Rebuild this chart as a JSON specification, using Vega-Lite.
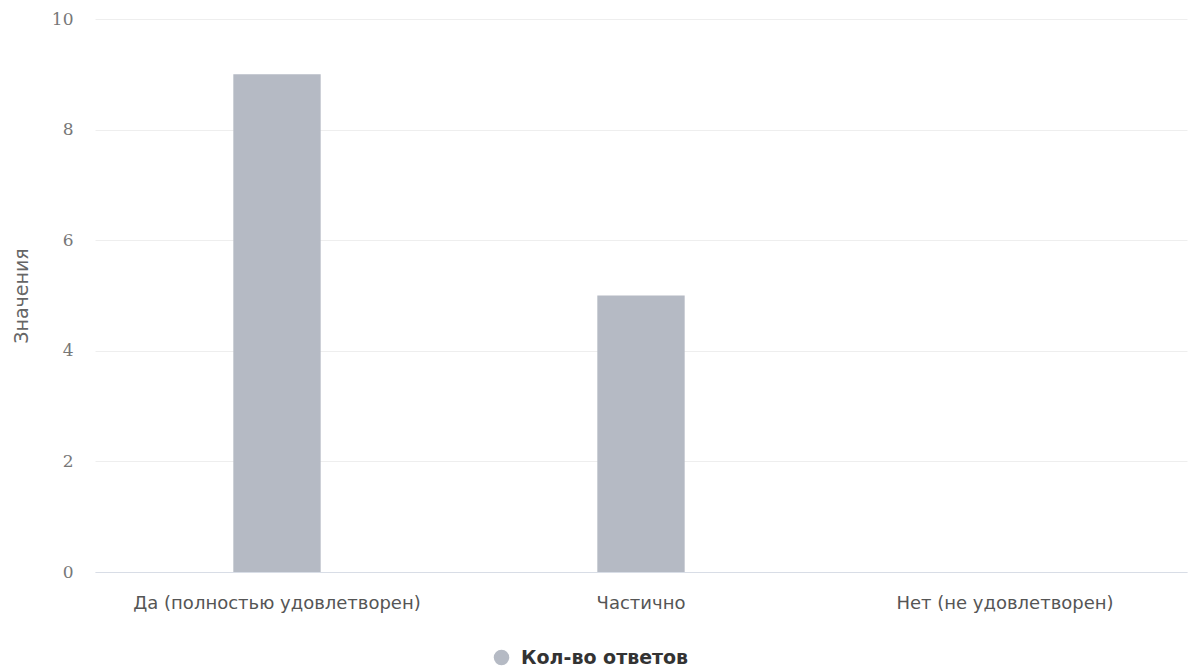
{
  "$schema": "https://vega.github.io/schema/vega-lite/v6.json",
  "width": 1092,
  "height": 553,
  "autosize": "none",
  "padding": {"left": 95, "top": 19, "right": 9, "bottom": 97},
  "background": "white",
  "data": {
    "values": [
      {"answer": "Да (полностью удовлетворен)", "count": 9, "series": "Кол-во ответов"},
      {"answer": "Частично", "count": 5, "series": "Кол-во ответов"},
      {"answer": "Нет (не удовлетворен)", "count": 0, "series": "Кол-во ответов"}
    ]
  },
  "mark": {"type": "bar", "color": "#b5bac4"},
  "encoding": {
    "x": {
      "field": "answer",
      "type": "nominal",
      "sort": null,
      "scale": {"paddingInner": 0.76, "paddingOuter": 0.38},
      "axis": {
        "title": null,
        "labelAngle": 0,
        "labelFont": "DejaVu Sans",
        "labelFontSize": 18,
        "labelLimit": 0,
        "labelColor": "#555555",
        "labelPadding": 22,
        "domainColor": "#d8dde6",
        "domainWidth": 1,
        "ticks": false,
        "grid": false
      }
    },
    "y": {
      "field": "count",
      "type": "quantitative",
      "scale": {"domain": [0, 10]},
      "axis": {
        "title": "Значения",
        "titleFont": "DejaVu Sans",
        "titleFontSize": 19,
        "titleFontWeight": "normal",
        "titleColor": "#666666",
        "titlePadding": 20,
        "values": [0, 2, 4, 6, 8, 10],
        "labelFont": "DejaVu Serif",
        "labelFontSize": 17,
        "labelColor": "#777777",
        "labelPadding": 22,
        "ticks": false,
        "domain": false,
        "grid": true,
        "gridColor": "#eeeeee",
        "gridWidth": 1
      }
    },
    "fill": {
      "field": "series",
      "type": "nominal",
      "scale": {"range": ["#b5bac4"]},
      "legend": {
        "title": null,
        "orient": "none",
        "legendX": 397,
        "legendY": 629,
        "symbolType": "circle",
        "symbolSize": 240,
        "symbolStrokeWidth": 0,
        "labelFont": "DejaVu Sans",
        "labelFontSize": 19,
        "labelFontWeight": "bold",
        "labelLimit": 0,
        "labelColor": "#333333",
        "labelOffset": 10
      }
    }
  },
  "config": {"view": {"stroke": null}}
}
